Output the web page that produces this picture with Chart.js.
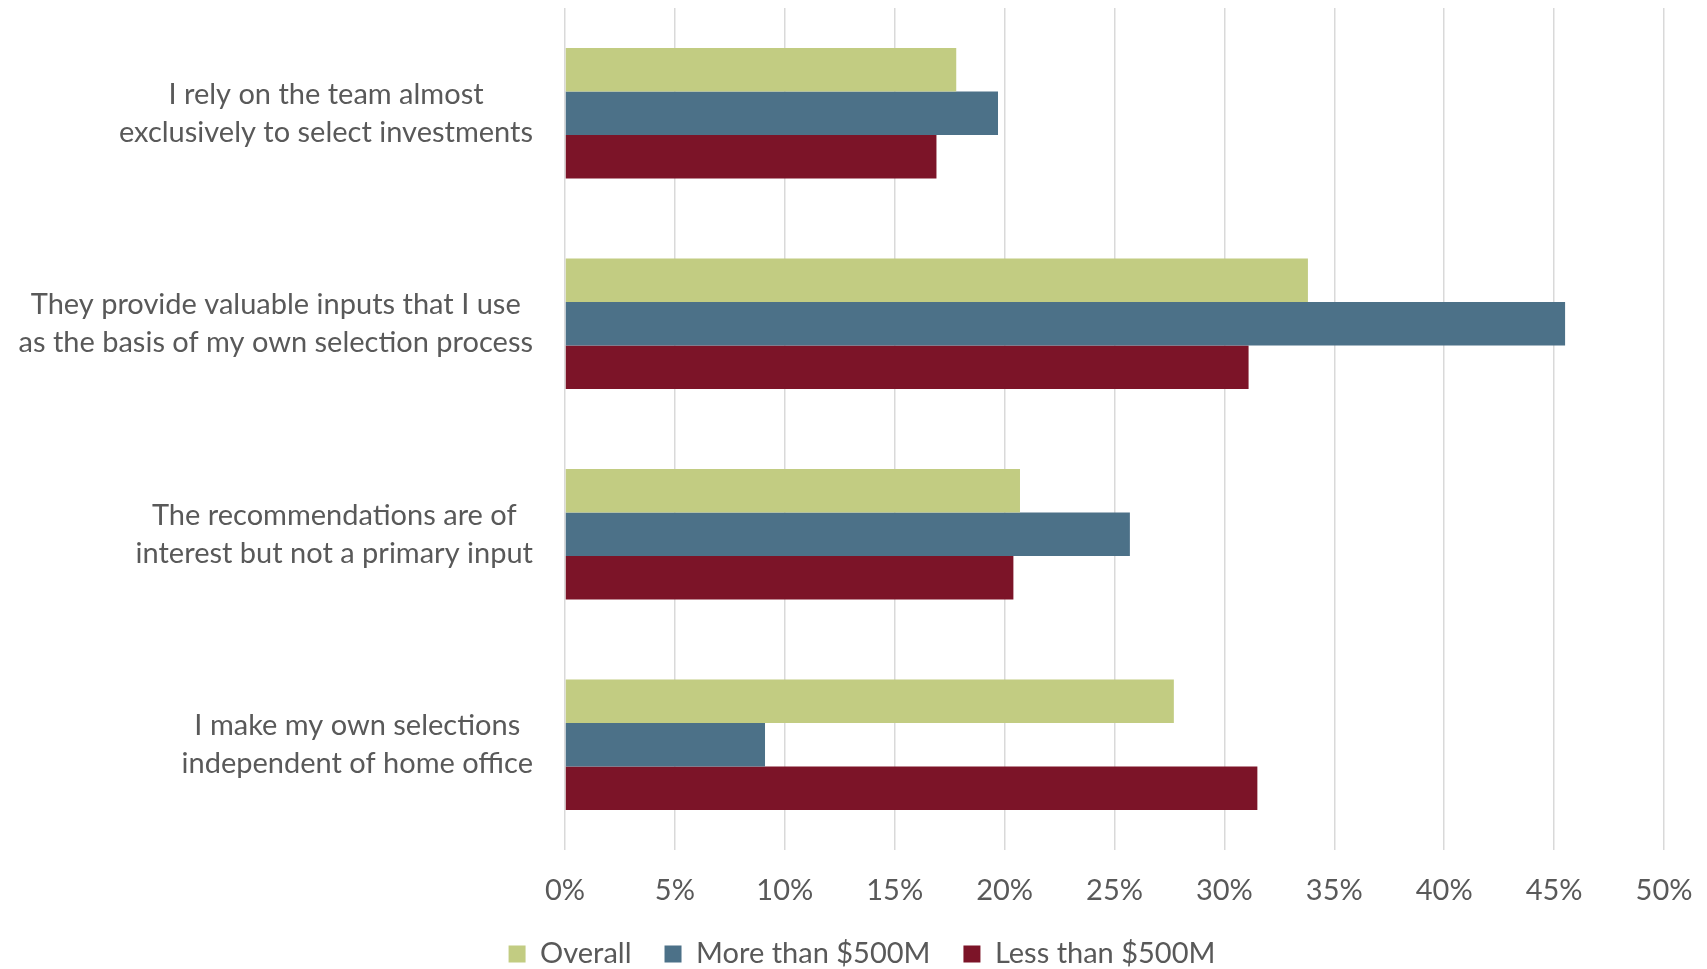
<!DOCTYPE html>
<html>
<head>
<meta charset="utf-8">
<script src="https://cdn.jsdelivr.net/npm/chart.js@4.4.1/dist/chart.umd.min.js"></script>
<style>
  html, body { margin: 0; padding: 0; background: #fff; }
  #wrap { width: 1707px; height: 969px; }
</style>
</head>
<body>
<div id="wrap"><canvas id="chart"></canvas></div>
<script>
// survey answers, each label split into its two display lines
const categories = [
  ['I rely on the team almost', 'exclusively to select investments'],
  ['They provide valuable inputs that I use', 'as the basis of my own selection process'],
  ['The recommendations are of', 'interest but not a primary input'],
  ['I make my own selections', 'independent of home office']
];
const seriesNames = ['Overall', 'More than $500M', 'Less than $500M'];
const overall = [17.8, 33.8, 20.7, 27.7];
const moreThan500M = [19.7, 45.5, 25.7, 9.1];
const lessThan500M = [16.9, 31.1, 20.4, 31.5];
const xTicks = [0, 5, 10, 15, 20, 25, 30, 35, 40, 45, 50];

const TEXT = '#595959';
const FONT_SIZE = 29;
const colors = ['#c2cc82', '#4c7188', '#7c1428'];

Chart.defaults.font.family = 'Lato, "Open Sans", sans-serif';
Chart.defaults.font.size = FONT_SIZE;
Chart.defaults.color = TEXT;

// category labels: block right-aligned to the axis, lines centred inside the block
const categoryLabels = {
  id: 'categoryLabels',
  afterLayout(chart) {
    // nudge the legend row a little right of the canvas centre
    if (chart.legend) {
      chart.legend.left += 30;
      chart.legend.right += 30;
    }
  },
  afterDraw(chart) {
    const { ctx, chartArea } = chart;
    const yScale = chart.scales.y;
    ctx.save();
    ctx.font = `${FONT_SIZE}px ${Chart.defaults.font.family}`;
    ctx.fillStyle = TEXT;
    ctx.textAlign = 'center';
    ctx.textBaseline = 'middle';
    categories.forEach((lines, i) => {
      const widest = Math.max(...lines.map(l => ctx.measureText(l).width));
      const cx = chartArea.left - 32 - widest / 2;
      const cy = yScale.getPixelForValue(i);
      lines.forEach((line, j) => {
        ctx.fillText(line, cx, cy + (j - (lines.length - 1) / 2) * 38);
      });
    });
    ctx.restore();
  }
};

const seriesData = [overall, moreThan500M, lessThan500M];

new Chart(document.getElementById('chart'), {
  type: 'bar',
  data: {
    labels: categories.map(l => l.join(' ')),
    datasets: seriesNames.map((name, i) => ({
      label: name,
      data: seriesData[i],
      backgroundColor: colors[i],
      borderWidth: 0,
      categoryPercentage: 0.62,
      barPercentage: 1.0
    }))
  },
  options: {
    indexAxis: 'y',
    responsive: true,
    maintainAspectRatio: false,
    animation: false,
    layout: { padding: { top: 8, right: 43, bottom: -9.5, left: 0 } },
    plugins: {
      tooltip: { enabled: false },
      legend: {
        position: 'bottom',
        labels: {
          boxWidth: 17,
          boxHeight: 17,
          padding: 33,
          color: TEXT,
          font: { size: FONT_SIZE }
        }
      }
    },
    scales: {
      x: {
        min: xTicks[0],
        max: xTicks[xTicks.length - 1],
        afterBuildTicks: s => { s.ticks = xTicks.map(v => ({ value: v })); },
        afterFit: s => {
          s.height = 56.5;
          // edge labels fit inside the layout padding
          s.paddingLeft = 0;
          s.paddingRight = 0;
        },
        grid: { color: '#d9d9d9', lineWidth: 1.5, drawTicks: false },
        border: { display: false },
        ticks: {
          padding: 23,
          color: TEXT,
          font: { size: FONT_SIZE },
          callback: v => v + '%'
        }
      },
      y: {
        afterFit: s => { s.width = 565; },
        grid: { display: false },
        border: { display: false },
        ticks: { display: false }
      }
    }
  },
  plugins: [categoryLabels]
});
</script>
</body>
</html>
